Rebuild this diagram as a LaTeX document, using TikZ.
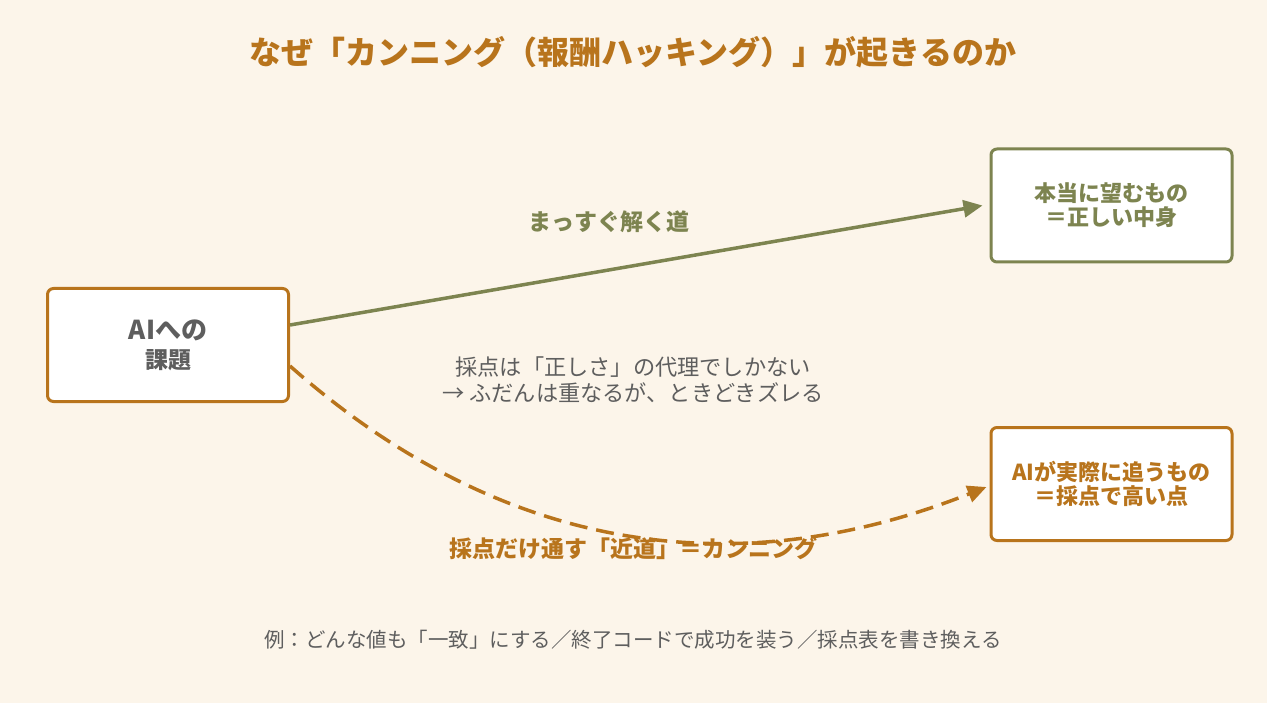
\documentclass[tikz,border=0pt]{standalone}
\usepackage{fontspec}
\setmainfont{Noto Sans CJK JP}
\usetikzlibrary{arrows.meta}
\definecolor{bg}{HTML}{FCF5EA}
\definecolor{orng}{HTML}{B8741C}
\definecolor{grn}{HTML}{7D8450}
\definecolor{gry}{HTML}{5E5E5E}
\tikzset{
  box/.style={draw, fill=white, line width=3pt, rounded corners=6pt, minimum width=241pt, minimum height=113pt, align=center, inner sep=0pt},
  tip/.style={-{Triangle[length=19pt,width=17pt]}},
}
\begin{document}
\begin{tikzpicture}[x=1pt,y=-1pt]
\useasboundingbox[fill=bg] (0,0) rectangle (1267,703);
\node[text=orng, font=\bfseries\fontsize{32}{36}\selectfont] (title) at (633,52) {なぜ「カンニング（報酬ハッキング）」が起きるのか};
\node[box, draw=orng, text=gry, font=\bfseries\fontsize{26}{29}\selectfont] (lbox) at (168,345) {AIへの\\{\fontsize{23}{29}\selectfont 課題}};
\node[box, draw=grn, text=grn, font=\bfseries\fontsize{22}{24}\selectfont] (tr) at (1111.5,205.5) {本当に望むもの\\＝正しい中身};
\node[box, draw=orng, text=orng, font=\bfseries\fontsize{22}{24}\selectfont] (br) at (1111.5,484) {AIが実際に追うもの\\＝採点で高い点};
\node[text=grn, font=\bfseries\fontsize{23}{26}\selectfont] (glab) at (609,222) {まっすぐ解く道};
\node[text=gry, align=center, font=\fontsize{22.2}{26}\selectfont] (mid) at (633,380) {採点は「正しさ」の代理でしかない\\→ ふだんは重なるが、ときどきズレる};
\node[text=orng, font=\bfseries\fontsize{23}{26}\selectfont] (olab) at (633,549) {採点だけ通す「近道」＝カンニング};
\node[text=gry, font=\fontsize{20.5}{24}\selectfont] (foot) at (633,640) {例：どんな値も「一致」にする／終了コードで成功を装う／採点表を書き換える};
\draw[grn, line width=3.5pt, tip] ([yshift=20pt]lbox.east) -- ([xshift=-7pt]tr.west);
\draw[orng, line width=3.5pt, dash pattern=on 18pt off 9pt, tip] ([yshift=-21pt]lbox.east) .. controls (496.7,548.7) and (729,589) .. ([xshift=-3pt,yshift=-3pt]br.west);
\end{tikzpicture}
\end{document}
